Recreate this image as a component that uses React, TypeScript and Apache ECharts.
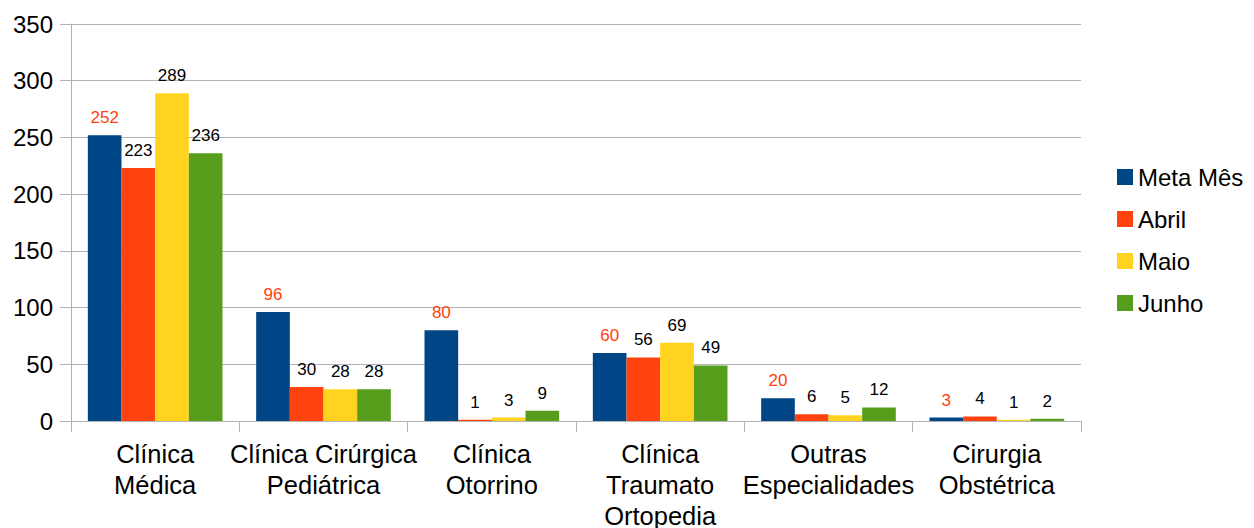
import React, { useEffect, useRef } from "react";
import * as echarts from "echarts";

const categories = [
  "Clínica\nMédica",
  "Clínica Cirúrgica\nPediátrica",
  "Clínica\nOtorrino",
  "Clínica\nTraumato\nOrtopedia",
  "Outras\nEspecialidades",
  "Cirurgia\nObstétrica",
];
const metaMes = [252, 96, 80, 60, 20, 3];
const abril = [223, 30, 1, 56, 6, 4];
const maio = [289, 28, 3, 69, 5, 1];
const junho = [236, 28, 9, 49, 12, 2];
const yTicks = [0, 50, 100, 150, 200, 250, 300, 350];

const FONT = "'Liberation Sans', Arial, sans-serif";

export default function App() {
  const ref = useRef<HTMLDivElement>(null);
  useEffect(() => {
    if (!ref.current) return;
    const chart = echarts.init(ref.current, undefined, { renderer: "svg" });
    const mk = (name: string, data: number[], color: string, labelColor: string) => ({
      name,
      type: "bar",
      data,
      barGap: "0%",
      barCategoryGap: "20%",
      itemStyle: { color },
      label: {
        show: true,
        position: "top",
        distance: 9,
        color: labelColor,
        fontSize: 17,
        fontFamily: FONT,
      },
    });
    chart.setOption({
      animation: false,
      textStyle: { fontFamily: FONT },
      grid: {
        left: 71,
        right: 173,
        top: 24,
        bottom: 107,
        containLabel: false,
        outerBoundsMode: "none",
      },
      legend: {
        orient: "vertical",
        left: 1112,
        top: 160,
        itemWidth: 16,
        itemHeight: 16,
        itemGap: 18,
        icon: "rect",
        textStyle: { fontSize: 24, fontFamily: FONT, color: "#000" },
        data: ["Meta Mês", "Abril", "Maio", "Junho"],
      },
      xAxis: {
        type: "category",
        data: categories,
        axisLine: { lineStyle: { color: "#b3b3b3" } },
        axisTick: { show: true, length: 11, lineStyle: { color: "#b3b3b3" }, alignWithLabel: false },
        axisLabel: {
          fontSize: 25.5,
          fontFamily: FONT,
          color: "#000",
          lineHeight: 31,
          margin: 17,
          interval: 0,
        },
      },
      yAxis: {
        type: "value",
        min: 0,
        max: 350,
        interval: 50,
        axisLine: { show: true, lineStyle: { color: "#b3b3b3" } },
        axisTick: { show: true, length: 11, lineStyle: { color: "#b3b3b3" } },
        splitLine: { lineStyle: { color: "#b3b3b3" } },
        axisLabel: {
          fontSize: 24,
          fontFamily: FONT,
          color: "#000",
          margin: 18,
          verticalAlign: "middle",
          padding: [0, 0, 4, 0],
          formatter: (v: number) => (yTicks.includes(v) ? String(v) : ""),
        },
      },
      series: [
        mk("Meta Mês", metaMes, "#004586", "#ff420e"),
        mk("Abril", abril, "#ff420e", "#000"),
        mk("Maio", maio, "#ffd320", "#000"),
        mk("Junho", junho, "#579d1c", "#000"),
      ],
    });
    return () => chart.dispose();
  }, []);
  return <div ref={ref} style={{ width: 1254, height: 528, position: "absolute", left: 0, top: 0, background: "#fff" }} />;
}
